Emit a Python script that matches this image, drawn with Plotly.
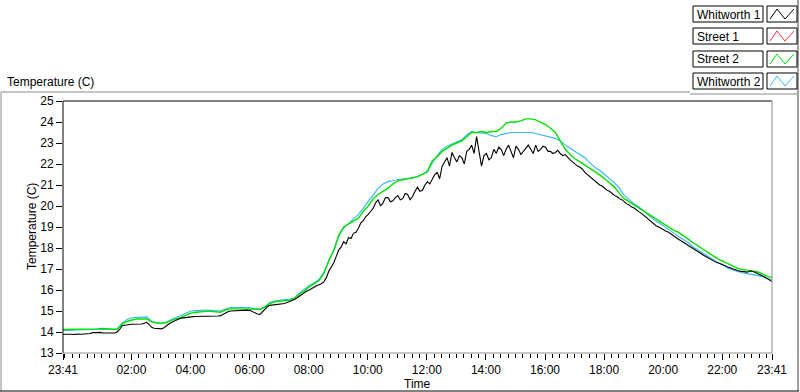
import plotly.graph_objects as go
import pandas as pd

# ---- data ----
start_time = "2014-07-20 23:41"
step_minutes = 10        # Street 2 / Whitworth 2 sampling
step_minutes_w1 = 5      # Whitworth 1 sampling

street2 = [
    14.12, 14.12, 14.12, 14.12, 14.12, 14.12,
    14.14, 14.15, 14.17, 14.16, 14.12, 14.12,
    14.38, 14.50, 14.57, 14.62, 14.62, 14.62,
    14.48, 14.43, 14.42, 14.45, 14.55, 14.62,
    14.70, 14.80, 14.90, 14.94, 14.97, 14.98,
    14.98, 14.96, 14.94, 15.05, 15.10, 15.10,
    15.10, 15.10, 15.10, 15.08, 15.08, 15.20,
    15.35, 15.44, 15.46, 15.48, 15.52, 15.60,
    15.80, 15.95, 16.15, 16.30, 16.45, 16.80,
    17.40, 17.90, 18.60, 19.00, 19.15, 19.30,
    19.42, 19.75, 20.00, 20.35, 20.55, 20.70,
    20.85, 21.05, 21.20, 21.25, 21.30, 21.32,
    21.40, 21.50, 21.65, 22.15, 22.35, 22.60,
    22.75, 22.90, 23.00, 23.10, 23.30, 23.50,
    23.50, 23.55, 23.50, 23.55, 23.55, 23.70,
    23.95, 24.00, 24.00, 24.05, 24.15, 24.15,
    24.10, 24.00, 23.88, 23.70, 23.50, 23.10,
    22.70, 22.45, 22.25, 22.10, 21.95, 21.80,
    21.65, 21.48, 21.30, 21.10, 20.90, 20.60,
    20.35, 20.20, 20.05, 19.92, 19.75, 19.60,
    19.47, 19.30, 19.15, 18.98, 18.85, 18.74,
    18.60, 18.42, 18.25, 18.10, 17.92, 17.78,
    17.62, 17.48, 17.38, 17.25, 17.12, 17.03,
    16.98, 16.93, 16.90, 16.87, 16.78, 16.65,
    16.60,
]

whitworth2 = [
    14.07, 14.08, 14.10, 14.10, 14.10, 14.12,
    14.13, 14.14, 14.15, 14.14, 14.12, 14.15,
    14.42, 14.60, 14.68, 14.70, 14.72, 14.72,
    14.50, 14.44, 14.42, 14.46, 14.60, 14.70,
    14.80, 14.92, 15.00, 15.02, 15.05, 15.05,
    15.03, 15.02, 15.00, 15.10, 15.17, 15.17,
    15.17, 15.17, 15.17, 15.10, 15.08, 15.20,
    15.40, 15.48, 15.52, 15.54, 15.56, 15.62,
    15.85, 16.05, 16.22, 16.35, 16.50, 16.85,
    17.40, 17.85, 18.55, 18.95, 19.18, 19.40,
    19.60, 19.90, 20.20, 20.55, 20.84, 21.05,
    21.16, 21.20, 21.26, 21.28, 21.30, 21.32,
    21.40, 21.50, 21.62, 22.05, 22.40, 22.68,
    22.85, 22.95, 23.05, 23.15, 23.40, 23.54,
    23.50, 23.46, 23.45, 23.35, 23.30, 23.40,
    23.46, 23.50, 23.50, 23.50, 23.50, 23.50,
    23.45, 23.40, 23.35, 23.30, 23.22, 23.10,
    22.90, 22.75, 22.60, 22.48, 22.30, 22.05,
    21.85, 21.70, 21.50, 21.30, 21.10, 20.85,
    20.50, 20.30, 20.10, 19.95, 19.75, 19.55,
    19.35, 19.20, 19.05, 18.90, 18.72, 18.55,
    18.40, 18.25, 18.05, 17.90, 17.72, 17.60,
    17.45, 17.30, 17.20, 17.05, 16.95, 16.87,
    16.82, 16.78, 16.74, 16.71, 16.65, 16.55,
    16.50,
]

whitworth1 = [
    13.89, 13.90, 13.90, 13.89, 13.88, 13.90, 13.90, 13.89, 13.89, 13.90, 13.92, 13.93,
    13.97, 13.97, 13.98, 13.98, 13.96, 13.96, 13.97, 13.96, 13.94, 13.95, 14.00, 14.12,
    14.30, 14.33, 14.35, 14.36, 14.37, 14.37, 14.38, 14.38, 14.38, 14.42, 14.46, 14.35,
    14.22, 14.18, 14.16, 14.15, 14.15, 14.20, 14.30, 14.38, 14.45, 14.52, 14.58, 14.62,
    14.66, 14.68, 14.70, 14.72, 14.73, 14.73, 14.74, 14.74, 14.76, 14.76, 14.76, 14.76,
    14.76, 14.76, 14.76, 14.76, 14.78, 14.85, 14.92, 14.96, 15.00, 15.01, 15.02, 15.02,
    15.02, 15.03, 15.04, 15.04, 15.02, 14.96, 14.90, 14.86, 14.84, 14.95, 15.10, 15.20,
    15.27, 15.28, 15.30, 15.31, 15.32, 15.34, 15.36, 15.40, 15.44, 15.50, 15.55, 15.62,
    15.70, 15.80, 15.90, 15.95, 16.00, 16.08, 16.15, 16.20, 16.25, 16.30, 16.40, 16.60,
    16.90, 17.10, 17.30, 17.60, 17.90, 18.05, 18.30, 18.20, 18.50, 18.45, 18.70, 18.75,
    18.94, 19.20, 19.30, 19.50, 19.60, 19.75, 19.90, 20.15, 20.30, 20.00, 20.15, 20.40,
    20.40, 20.20, 20.25, 20.40, 20.50, 20.30, 20.35, 20.60, 20.55, 20.30, 20.45, 20.70,
    20.90, 20.70, 20.75, 21.00, 21.15, 21.05, 21.30, 21.50, 21.60, 21.30, 21.90, 22.10,
    22.30, 21.90, 22.55, 22.30, 22.10, 22.40, 22.30, 22.00, 22.60, 22.70, 22.90, 22.50,
    23.30, 22.60, 21.90, 22.40, 22.50, 22.20, 22.30, 22.70, 22.50, 22.80, 22.70, 22.40,
    22.70, 22.90, 22.55, 22.30, 22.85, 22.70, 22.45, 22.60, 22.70, 22.90, 22.70, 22.50,
    22.90, 22.60, 22.70, 22.85, 22.80, 22.60, 22.60, 22.50, 22.55, 22.65, 22.50, 22.40,
    22.45, 22.30, 22.20, 22.10, 22.00, 21.90, 21.85, 21.75, 21.60, 21.50, 21.40, 21.30,
    21.20, 21.10, 21.00, 20.95, 20.85, 20.75, 20.70, 20.60, 20.50, 20.45, 20.35, 20.30,
    20.20, 20.10, 20.05, 19.95, 19.90, 19.80, 19.72, 19.65, 19.55, 19.45, 19.35, 19.25,
    19.15, 19.05, 19.00, 18.92, 18.85, 18.80, 18.75, 18.68, 18.60, 18.50, 18.42, 18.36,
    18.30, 18.20, 18.12, 18.05, 18.00, 17.92, 17.85, 17.75, 17.67, 17.60, 17.52, 17.45,
    17.38, 17.34, 17.30, 17.26, 17.22, 17.15, 17.10, 17.05, 17.00, 16.96, 16.93, 16.90,
    16.88, 16.86, 16.85, 16.90, 16.90, 16.85, 16.80, 16.75, 16.70, 16.62, 16.55, 16.48,
    16.40,
]

street1 = []  # no visible trace in the reference

series_names = ["Whitworth 1", "Street 1", "Street 2", "Whitworth 2"]
series_colors = ["#000000", "#ff3030", "#00e000", "#33b5f0"]

x_tick_times = ["2014-07-20 23:41", "2014-07-21 02:00", "2014-07-21 04:00",
                "2014-07-21 06:00", "2014-07-21 08:00", "2014-07-21 10:00",
                "2014-07-21 12:00", "2014-07-21 14:00", "2014-07-21 16:00",
                "2014-07-21 18:00", "2014-07-21 20:00", "2014-07-21 22:00",
                "2014-07-21 23:41"]
x_tick_text = ["23:41", "02:00", "04:00", "06:00", "08:00", "10:00", "12:00",
               "14:00", "16:00", "18:00", "20:00", "22:00", "23:41"]
y_ticks = list(range(13, 26))

times = pd.date_range(start_time, periods=len(street2), freq=f"{step_minutes}min")
times_w1 = pd.date_range(start_time, periods=len(whitworth1), freq=f"{step_minutes_w1}min")

# ---- layout helpers (pixel -> paper) ----
W, H = 800, 392
L, R, T, B = 63, 772, 101, 353
def px(x):
    return (x - L) / (R - L)
def py(y):
    return (B - y) / (B - T)

FONT = "Liberation Sans"

fig = go.Figure()
fig.add_trace(go.Scatter(x=times, y=whitworth2, mode="lines", name="Whitworth 2",
                         line=dict(color=series_colors[3], width=1.1)))
fig.add_trace(go.Scatter(x=times[:len(street1)], y=street1, mode="lines", name="Street 1",
                         line=dict(color=series_colors[1], width=1.1)))
fig.add_trace(go.Scatter(x=times, y=street2, mode="lines", name="Street 2",
                         line=dict(color=series_colors[2], width=1.4)))
fig.add_trace(go.Scatter(x=times_w1, y=whitworth1, mode="lines", name="Whitworth 1",
                         line=dict(color=series_colors[0], width=1.1)))

shapes = []
def line(x0, y0, x1, y1, color, width=1):
    shapes.append(dict(type="line", xref="paper", yref="paper",
                       x0=px(x0), y0=py(y0), x1=px(x1), y1=py(y1),
                       line=dict(color=color, width=width)))

# outer frame
line(1, 92, 690, 92, "#8c8c8c")
line(690, 94, 797, 94, "#8c8c8c")
line(1, 92, 1, 391, "#8c8c8c")
line(798, 0, 798, 391, "#404040")
line(0, 391, 799, 391, "#000000")
# plot frame
line(L, T, R, T, "#000000")
line(L, T, L, B, "#000000")
line(R, T, R, B, "#8c8c8c")
line(L, B, R, B, "#8c8c8c")

annotations = []
# legend boxes
legend_tops = [6, 28, 51, 73]
for name, color, top in zip(series_names, series_colors, legend_tops):
    bot = top + 16
    shapes.append(dict(type="rect", xref="paper", yref="paper",
                       x0=px(693), x1=px(763), y0=py(bot), y1=py(top),
                       line=dict(color="#000000", width=1), fillcolor="white"))
    shapes.append(dict(type="rect", xref="paper", yref="paper",
                       x0=px(767), x1=px(797), y0=py(bot), y1=py(top),
                       line=dict(color="#000000", width=1), fillcolor="white"))
    pts = [(770, bot - 3), (777, top + 3), (785, bot - 3), (794, top + 3)]
    path = "M " + " L ".join(f"{px(a)},{py(b)}" for a, b in pts)
    shapes.append(dict(type="path", xref="paper", yref="paper", path=path,
                       line=dict(color=color, width=1)))
    annotations.append(dict(xref="paper", yref="paper", x=px(695), y=py(top + 8.5),
                            text=name, showarrow=False, xanchor="left", yanchor="middle",
                            font=dict(family=FONT, size=12, color="black")))

annotations.append(dict(xref="paper", yref="paper", x=px(5), y=py(82),
                        text="Temperature (C)", showarrow=False, xanchor="left",
                        yanchor="middle", font=dict(family=FONT, size=12, color="black")))
annotations.append(dict(xref="paper", yref="paper", x=px(32), y=py(227),
                        text="Temperature (C)", showarrow=False, textangle=-90,
                        xanchor="center", yanchor="middle",
                        font=dict(family=FONT, size=12, color="black")))
annotations.append(dict(xref="paper", yref="paper", x=px(417), y=py(384),
                        text="Time", showarrow=False, xanchor="center",
                        yanchor="middle", font=dict(family=FONT, size=12, color="black")))

fig.update_layout(
    width=W, height=H,
    margin=dict(l=L, r=W - R, t=T, b=H - B, pad=0),
    paper_bgcolor="white", plot_bgcolor="white",
    showlegend=False,
    font=dict(family=FONT, size=12, color="black"),
    shapes=shapes, annotations=annotations,
    xaxis=dict(
        range=[x_tick_times[0], x_tick_times[-1]],
        tickmode="array", tickvals=x_tick_times, ticktext=x_tick_text,
        ticks="outside", ticklen=6, tickcolor="black", tickwidth=1,
        showgrid=False, zeroline=False, showline=False,
        tickfont=dict(family=FONT, size=12, color="black"),
        minor=dict(tickmode="linear", tick0="2014-07-21 00:00", dtick=15 * 60 * 1000,
                   ticks="outside", ticklen=4, tickcolor="black", showgrid=False),
    ),
    yaxis=dict(
        range=[13, 25], tickmode="array", tickvals=y_ticks,
        ticks="outside", ticklen=6, tickcolor="black", tickwidth=1,
        showgrid=False, zeroline=False, showline=False,
        tickfont=dict(family=FONT, size=12, color="black"),
    ),
)

fig.write_html("out.html", config={"displayModeBar": False},
               post_script="document.body.style.margin='0';document.body.style.padding='0';")
